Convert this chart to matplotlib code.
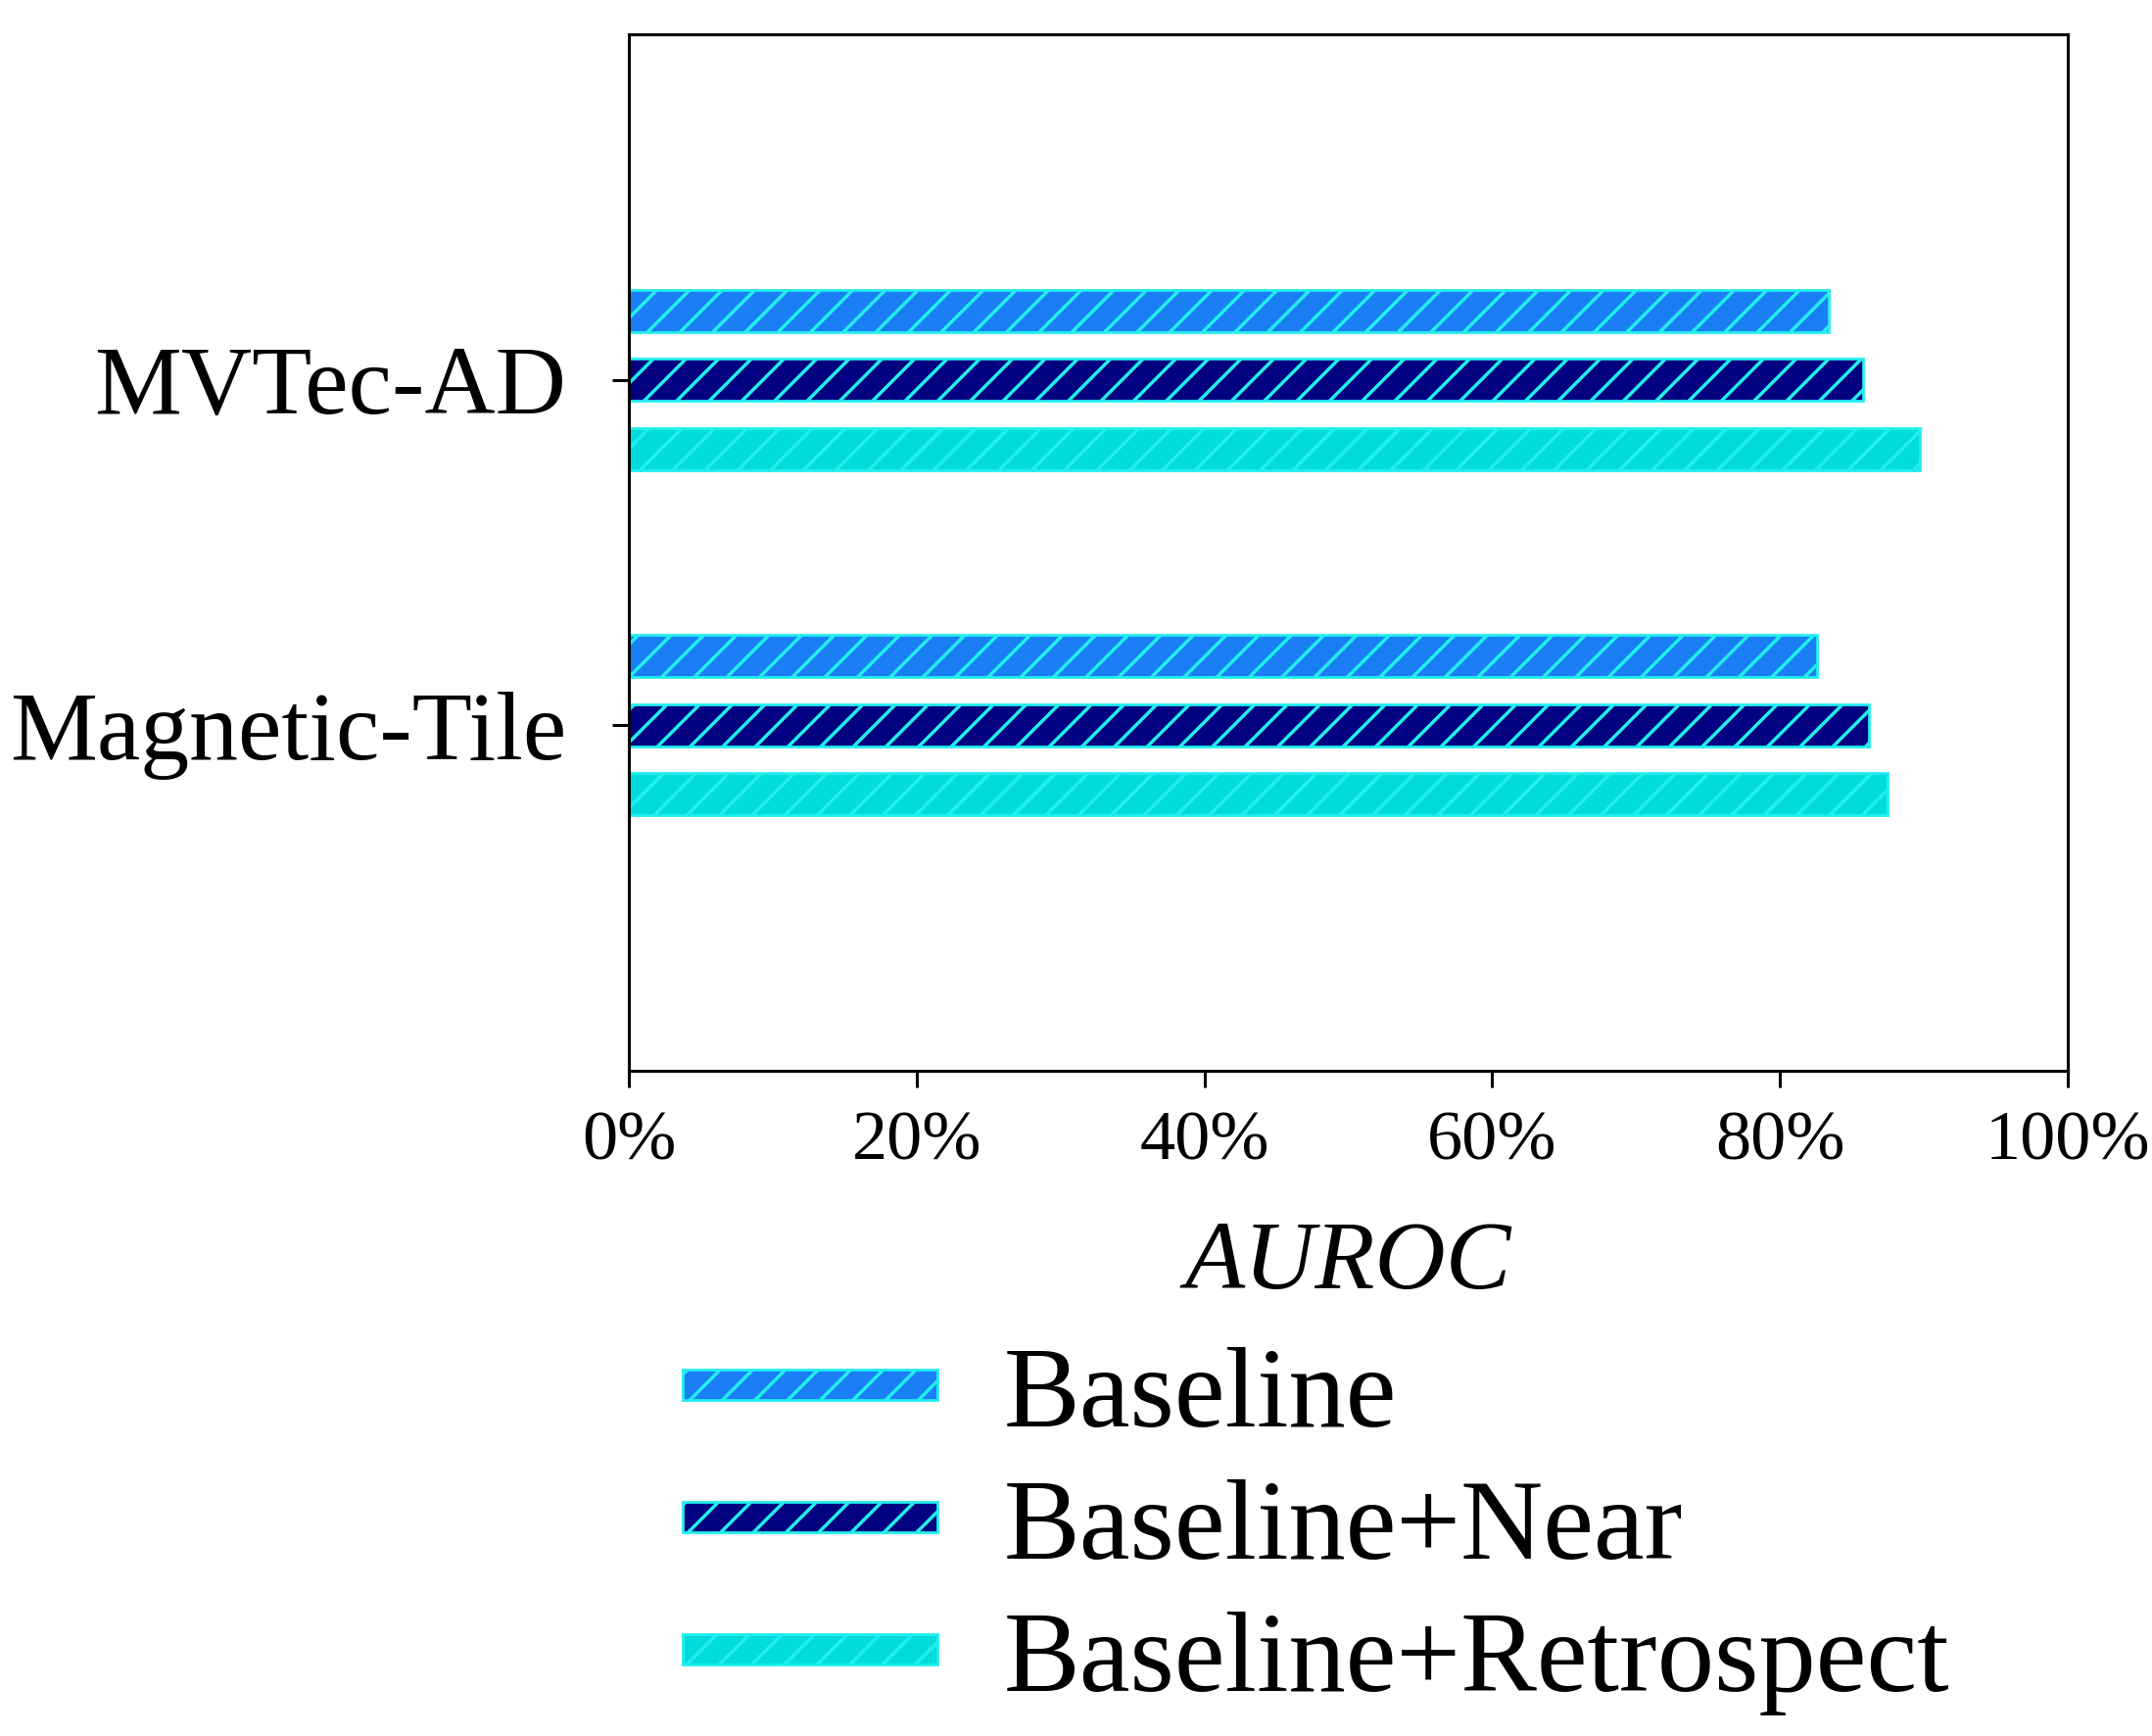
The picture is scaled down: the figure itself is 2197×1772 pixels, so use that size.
import matplotlib.pyplot as plt
import numpy as np

plt.rcParams['font.family'] = ['Liberation Serif', 'DejaVu Serif']
plt.rcParams['hatch.linewidth'] = 2.5

categories = ["Magnetic-Tile", "MVTec-AD"]
series = ["Baseline", "Baseline+Near", "Baseline+Retrospect"]
baseline = [82.6, 83.4]
near = [86.2, 85.8]
retro = [87.5, 89.7]
xticks = [0, 20, 40, 60, 80, 100]

colors = ["#1A7EF4", "#000080", "#00DCDC"]
edge = "#22EEEE"

fig = plt.figure(figsize=(21.97, 17.72), dpi=100)
ax = fig.add_axes([642/2197, 1-1093/1772, 1469/2197, 1058/1772])

y = np.arange(len(categories))
h = 0.122
offs = [0.2, 0.0, -0.2]
for vals, off, c, lab in zip([baseline, near, retro], offs, colors, series):
    ax.barh(y + off, vals, height=h, color=c, edgecolor=edge, linewidth=2,
            hatch='/', label=lab)

ax.set_xlim(0, 100)
ax.set_ylim(-1, 2)
ax.set_xticks(xticks)
ax.set_xticklabels([f"{t}%" for t in xticks], fontsize=52)
ax.set_yticks(y)
ax.set_yticklabels(categories, fontsize=72)
for s in ax.spines.values():
    s.set_linewidth(2.2)
ax.tick_params(axis='x', length=12, width=2.2, pad=17)
ax.tick_params(axis='y', length=12, width=2.2, pad=34)
ax.set_xlabel("AUROC", fontsize=72, style='italic', labelpad=34)

ax.legend(loc='upper left', bbox_to_anchor=(697/2197, 1-1375/1772),
          bbox_transform=fig.transFigure, frameon=False, fontsize=84,
          handlelength=2.23, handleheight=0.03, handletextpad=0.58,
          labelspacing=0.25, borderpad=0, borderaxespad=0)

fig.savefig("out.png", dpi=100)
